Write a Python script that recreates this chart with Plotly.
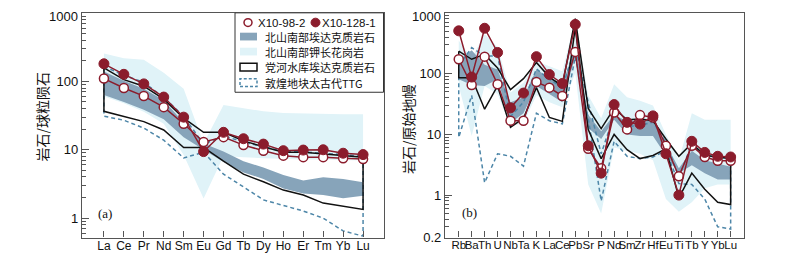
import numpy as np
import plotly.graph_objects as go

# ---------------- data ----------------
ree = ["La", "Ce", "Pr", "Nd", "Sm", "Eu", "Gd", "Tb", "Dy", "Ho", "Er", "Tm", "Yb", "Lu"]
a_x10_98_2 = [110, 80, 61, 42, 24, 13, 15.3, 11.7, 9.7, 8.2, 7.8, 7.8, 7.5, 7.3]
a_x10_128_1 = [181, 127, 92, 59, 30, 9.4, 18, 14.5, 12.1, 9.7, 9.9, 10, 8.9, 8.5]
a_beishan_adakite_hi = [140, 102, 78, 53, 25, 12.4, 9.4, 6.8, 5.5, 4.27, 3.55, 3.96, 3.75, 3.36]
a_beishan_adakite_lo = [63, 50, 38.5, 28, 15.3, 10, 6.6, 4.66, 3.75, 2.71, 2.30, 2.18, 1.96, 2.13]
a_kgranite_hi = [256, 218, 207, 134, 78, 12.4, 45, 40.6, 36.5, 34.5, 34, 33, 33, 33]
a_kgranite_lo = [60, 48, 36, 24, 8.4, 1.94, 8.1, 7.8, 7.5, 7.3, 7.2, 7.2, 7.0, 7.0]
a_danghe_hi = [158, 106, 85, 55, 29, 18, 18, 13.5, 11.1, 9.2, 9.2, 8.7, 8.2, 7.8]
a_danghe_lo = [36.5, 31, 25.8, 19.5, 10.8, 10.8, 6.8, 4.4, 3.4, 2.57, 2.18, 1.66, 1.49, 1.34]
a_ttg_hi = [166, 123, 97, 58, 31, 12, 16, 13, 11, 9.5, 9.3, 9, 8.5, 8]
a_ttg_lo = [31, 27, 20.8, 13.8, 7.6, 9.2, 4.4, 2.86, 1.85, 1.54, 1.27, 1.0, 0.65, 0.545]

spider = ["Rb", "Ba", "Th", "U", "Nb", "Ta", "K", "La", "Ce", "Pb", "Sr", "P", "Nd", "Sm",
          "Zr", "Hf", "Eu", "Ti", "Tb", "Y", "Yb", "Lu"]
b_x10_98_2 = [173, 65, 191, 67, 16.8, 16.8, 73, 59, 43, 229, 5.8, 2.77, 23, 12.1, 20.8, 19,
              6.5, 2.04, 6.5, 4.25, 3.67, 3.67]
b_x10_128_1 = [509, 88, 561, 224, 27.4, 48, 191, 97, 69, 650, 6.5, 2.3, 31, 15.8, 14.8, 20.2,
               4.8, 1.0, 7.7, 5.05, 4.36, 4.25]
b_beishan_adakite_hi = [168, 244, 140, 117, 34, 41, 117, 86, 67, 275, 21, 11.3, 21, 16.4, 17.5,
                        16.4, 6.95, 2.77, 5.4, 3.76, 3.33, 2.94]
b_beishan_adakite_lo = [81, 65, 63, 81, 15.4, 22.3, 63, 46.5, 34, 190, 12.8, 8.4, 17.4, 10, 9.4,
                        9.4, 4.5, 2.3, 3.1, 2.3, 1.8, 1.8]
b_kgranite_hi = [352, 179, 450, 275, 49, 71, 160, 132, 110, 780, 44, 18.5, 67, 41, 36, 30, 10,
                 3.76, 22.3, 17.4, 17.4, 17.4]
b_kgranite_lo = [63, 9.4, 63, 46.5, 13.6, 15.4, 44, 34, 28, 103, 1.5, 0.5, 6.1, 5.4, 4.8, 3.76,
                 0.86, 0.53, 0.76, 1.3, 1.5, 1.5]
b_danghe_hi = [235, 173, 208, 124, 54.6, 83, 153, 88, 63, 811, 26.8, 12.5, 26.8, 17.4, 17.9, 16.8,
               8.4, 4.36, 7.1, 4.52, 4.25, 4.0]
b_danghe_lo = [86, 86, 26, 63, 13.1, 18.5, 59, 19, 16.4, 575, 12, 4.0, 10, 5.6, 4.0, 4.5, 5.8,
               0.9, 2.3, 1.25, 0.76, 0.70]
b_ttg_hi = [135, 269, 195, 195, 19.7, 34, 120, 81, 59, 275, 34, 4.8, 21, 13.6, 14, 16, 7.4, 2.0,
            6.9, 4.5, 4.2, 4.0]
b_ttg_lo = [8.9, 44, 1.6, 4.8, 4.36, 3.0, 22.3, 16.8, 14.9, 190, 18.5, 0.8, 7.7, 4.36, 4.0, 4.25,
            5.4, 1.55, 1.5, 0.86, 0.30, 0.276]

a_yticks = [1, 10, 100, 1000]
b_yticks = [0.2, 1, 10, 100, 1000]
y_top_tick = 1000  # top tick label, written as an annotation so it is not hidden at the edge

legend_labels = ["X10-98-2", "X10-128-1", "北山南部埃达克质岩石", "北山南部钾长花岗岩",
                 "党河水库埃达克质岩石", "敦煌地块太古代TTG"]

# ---------------- styles ----------------
W, H = 800, 254
RED = "#8b1c2c"
BLUE = "#87a4ba"
CYAN = "#e0f3f8"
DASH = "#4d86a8"
FONT = "Liberation Sans, Arial, Noto Sans CJK SC, sans-serif"
CJK = "Noto Sans CJK SC, Liberation Sans, sans-serif"


def px(x):
    return x / W


def py(y):
    return 1 - y / H


fig = go.Figure()


def add_panel(cats, s1, s2, bhi, blo, chi, clo, dhi, dlo, thi, tlo, xa, ya):
    rc = cats[::-1]
    fig.add_trace(go.Scatter(x=cats + rc, y=chi + clo[::-1], fill="toself", fillcolor=CYAN,
                             line=dict(width=0), mode="lines", xaxis=xa, yaxis=ya,
                             hoverinfo="skip", showlegend=False))
    fig.add_trace(go.Scatter(x=cats + rc, y=bhi + blo[::-1], fill="toself", fillcolor=BLUE,
                             line=dict(width=0), mode="lines", xaxis=xa, yaxis=ya,
                             hoverinfo="skip", showlegend=False))
    fig.add_trace(go.Scatter(x=cats + rc + [cats[0]], y=thi + tlo[::-1] + [thi[0]], mode="lines",
                             line=dict(color=DASH, width=1.5, dash="4px,3px"), xaxis=xa, yaxis=ya,
                             showlegend=False))
    fig.add_trace(go.Scatter(x=cats + rc + [cats[0]], y=dhi + dlo[::-1] + [dhi[0]], mode="lines",
                             line=dict(color="#111111", width=1.5), xaxis=xa, yaxis=ya,
                             showlegend=False))
    fig.add_trace(go.Scatter(x=cats, y=s1, mode="lines+markers", xaxis=xa, yaxis=ya,
                             line=dict(color=RED, width=1.5),
                             marker=dict(symbol="circle", size=9, color="white",
                                         line=dict(color=RED, width=1.5)),
                             showlegend=False))
    fig.add_trace(go.Scatter(x=cats, y=s2, mode="lines+markers", xaxis=xa, yaxis=ya,
                             line=dict(color=RED, width=1.5),
                             marker=dict(symbol="circle", size=10, color=RED,
                                         line=dict(color=RED, width=1)),
                             showlegend=False))


add_panel(ree, a_x10_98_2, a_x10_128_1, a_beishan_adakite_hi, a_beishan_adakite_lo,
          a_kgranite_hi, a_kgranite_lo, a_danghe_hi, a_danghe_lo, a_ttg_hi, a_ttg_lo, "x", "y")
add_panel(spider, b_x10_98_2, b_x10_128_1, b_beishan_adakite_hi, b_beishan_adakite_lo,
          b_kgranite_hi, b_kgranite_lo, b_danghe_hi, b_danghe_lo, b_ttg_hi, b_ttg_lo, "x2", "y2")


def minor_vals(lo, hi):
    vals = []
    for e in range(-2, 4):
        for m in range(2, 10):
            v = m * 10.0 ** e
            if lo <= v <= hi:
                vals.append(v)
    return vals


def tick_text(vals):
    return ["" if v == y_top_tick else f"{v:g}" for v in vals]


axcol = "#555555"
xcommon = dict(type="category", showgrid=False, zeroline=False, showline=True, linecolor=axcol,
               linewidth=1.2, mirror=True, ticks="inside", ticklen=6, tickcolor=axcol,
               tickangle=0, ticklabelstandoff=-3)
ycommon = dict(type="log", showgrid=False, zeroline=False, showline=True, linecolor=axcol,
               linewidth=1.2, mirror=True, ticks="inside", ticklen=7, tickcolor=axcol,
               tickfont=dict(family=FONT, size=13, color="#111"))

ydom = [py(237), py(5)]
fig.update_layout(
    width=W, height=H, margin=dict(l=0, r=0, t=0, b=0),
    paper_bgcolor="white", plot_bgcolor="white", showlegend=False,
    xaxis=dict(xcommon, domain=[px(74), px(376)], categoryorder="array", categoryarray=ree,
               tickmode="array", tickvals=ree, ticktext=ree,
               tickfont=dict(family=FONT, size=12, color="#111"),
               range=[-1.1, 14.05], anchor="y"),
    yaxis=dict(ycommon, domain=ydom, range=[np.log10(0.52), 3.003], anchor="x",
               tickvals=a_yticks, ticktext=tick_text(a_yticks),
               minor=dict(tickvals=minor_vals(0.52, 1000), ticks="inside", ticklen=4,
                          tickcolor=axcol)),
    xaxis2=dict(xcommon, domain=[px(437), px(736)], categoryorder="array", categoryarray=spider,
                tickmode="array", tickvals=spider, ticktext=spider,
                tickfont=dict(family=FONT, size=11.5, color="#111"),
                range=[-1.06, 22.03], anchor="y2"),
    yaxis2=dict(ycommon, domain=ydom, range=[np.log10(0.2), 3.003], anchor="x2",
                tickvals=b_yticks, ticktext=tick_text(b_yticks),
                minor=dict(tickvals=minor_vals(0.2, 1000), ticks="inside", ticklen=4,
                           tickcolor=axcol)),
)

shapes = []
annotations = []

# top tick labels ("1000"), kept inside the page at the top edge
for xr in ("x domain", "x2 domain"):
    annotations.append(dict(x=0, y=1, xref=xr, yref="paper",
                            text=f"{y_top_tick:g}", showarrow=False, xanchor="right",
                            yanchor="top", xshift=-3, borderpad=0,
                            font=dict(family=FONT, size=13, color="#111")))

# legend box in panel (a)
shapes.append(dict(type="rect", xref="paper", yref="paper", x0=px(227), x1=px(375.5),
                   y0=py(87), y1=py(5), fillcolor="white", line=dict(color="#333", width=1),
                   layer="above"))
# row 1 markers
shapes.append(dict(type="circle", xref="paper", yref="paper", x0=px(236), x1=px(244),
                   y0=py(19), y1=py(11), fillcolor="white", line=dict(color=RED, width=1.5),
                   layer="above"))
shapes.append(dict(type="circle", xref="paper", yref="paper", x0=px(303), x1=px(312),
                   y0=py(19.5), y1=py(10.5), fillcolor=RED, line=dict(color=RED, width=1),
                   layer="above"))
annotations.append(dict(x=px(249), y=py(15), xref="paper", yref="paper", text=legend_labels[0],
                        showarrow=False, xanchor="left", yanchor="middle", borderpad=0,
                        font=dict(family=FONT, size=11.5, color="#111")))
annotations.append(dict(x=px(313), y=py(15), xref="paper", yref="paper", text=legend_labels[1],
                        showarrow=False, xanchor="left", yanchor="middle", borderpad=0,
                        font=dict(family=FONT, size=11.5, color="#111")))
rows = [29.5, 45, 61, 77]
styles = [dict(fillcolor=BLUE, line=dict(width=0)),
          dict(fillcolor=CYAN, line=dict(width=0)),
          dict(fillcolor="white", line=dict(color="#111", width=1.5)),
          dict(fillcolor="white", line=dict(color=DASH, width=1.5, dash="3px,2px"))]
for r, st, lab in zip(rows, styles, legend_labels[2:]):
    shapes.append(dict(type="rect", xref="paper", yref="paper", x0=px(232), x1=px(249),
                       y0=py(r + 4), y1=py(r - 4), layer="above", **st))
    annotations.append(dict(x=px(256), y=py(r), xref="paper", yref="paper", text=lab,
                            showarrow=False, xanchor="left", yanchor="middle", borderpad=0,
                            font=dict(family=CJK, size=11, color="#111")))

# axis titles
annotations.append(dict(x=px(34), y=py(112), xref="paper", yref="paper", text="岩石/球粒陨石",
                        textangle=-90, showarrow=False, xanchor="center", yanchor="middle",
                        font=dict(family=CJK, size=14, color="#111")))
annotations.append(dict(x=px(400), y=py(125), xref="paper", yref="paper", text="岩石/原始地幔",
                        textangle=-90, showarrow=False, xanchor="center", yanchor="middle",
                        font=dict(family=CJK, size=14, color="#111")))
# panel labels
annotations.append(dict(x=px(88), y=py(212), xref="paper", yref="paper", text="(a)",
                        showarrow=False, xanchor="left", yanchor="middle",
                        font=dict(family="Liberation Serif, Times New Roman, serif", size=13,
                                  color="#111")))
annotations.append(dict(x=px(452), y=py(211), xref="paper", yref="paper", text="(b)",
                        showarrow=False, xanchor="left", yanchor="middle",
                        font=dict(family="Liberation Serif, Times New Roman, serif", size=13,
                                  color="#111")))

fig.update_layout(shapes=shapes, annotations=annotations)
fig.write_html("out.html")
